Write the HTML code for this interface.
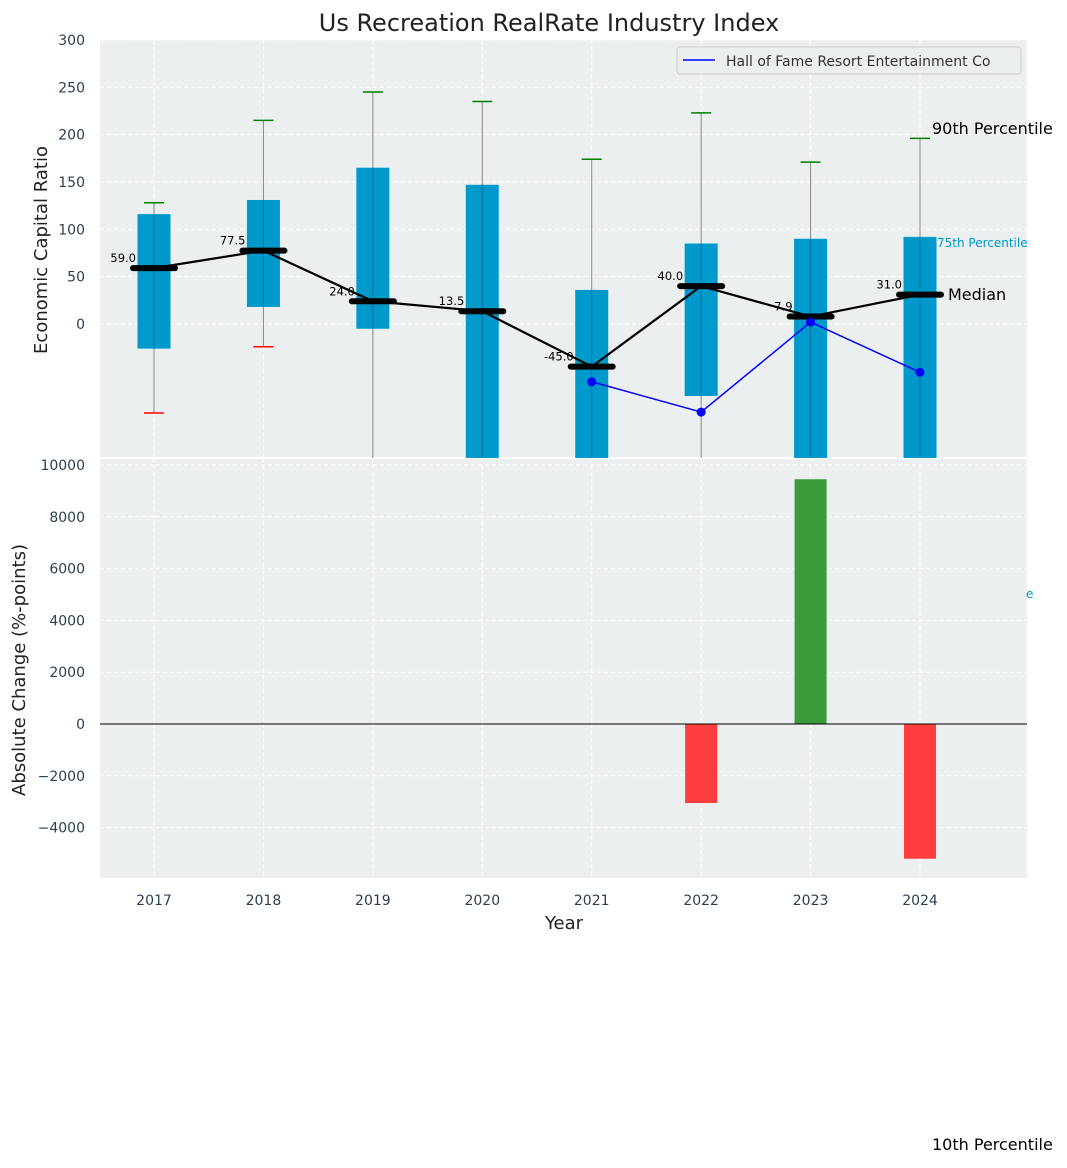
<!DOCTYPE html>
<html><head><meta charset="utf-8"><style>
body{margin:0;background:#fff;}
svg text{font-family:"DejaVu Sans","Liberation Sans",sans-serif;}
</style></head><body>
<svg id="c" width="1067" height="1163" xmlns="http://www.w3.org/2000/svg"></svg>
<script>
const years=[2017,2018,2019,2020,2021,2022,2023,2024];
const q75=[116,131,165,147,36,85,90,92];
const q25=[-26,18,-5,-200,-200,-76,-200,-200];
const p90=[128,215,245,235,174,223,171,196];
const p10=[-94,-24,-200,-200,-200,-200,-200,-200];
const medians=[59.0,77.5,24.0,13.5,-45.0,40.0,7.9,31.0];
const companyYears=[2021,2022,2023,2024];
const companyVals=[-61,-93,2,-51];
const changeYears=[2022,2023,2024];
const changeVals=[-3050,9450,-5200];
const topTicks=[0,50,100,150,200,250,300];
const botTicks=[-4000,-2000,0,2000,4000,6000,8000,10000];

const svg=document.getElementById('c');
const NS='http://www.w3.org/2000/svg';
function el(t,a,p){const e=document.createElementNS(NS,t);for(const k in a)e.setAttribute(k,a[k]);(p||svg).appendChild(e);return e;}
const L=100,R=1027,T1=40,B1=458,T2=458,B2=878;
const x=y=>154+(y-2017)*109.43;
const y1=v=>324-v*0.947;
const y2=v=>724-v*0.02590;
const fmt=v=>v<0?'\u2212'+Math.abs(v):String(v);

let g=el('rect',{x:L,y:T1,width:R-L,height:B1-T1,fill:'#ebeff0'});

g=el('rect',{x:L,y:T2,width:R-L,height:B2-T2,fill:'#ebeff0'});

el('line',{x1:L,x2:R,y1:458,y2:458,stroke:'#fff','stroke-width':2});

// grids
years.forEach(yr=>{
 el('line',{x1:x(yr),x2:x(yr),y1:T1,y2:B1,stroke:'#fff','stroke-dasharray':'4,3'});
 el('line',{x1:x(yr),x2:x(yr),y1:T2,y2:B2,stroke:'#fff','stroke-dasharray':'4,3'});
 const t=el('text',{x:x(yr),y:905,'text-anchor':'middle','font-size':14,fill:'#2c3e50'});t.textContent=yr;
 
});
topTicks.forEach(v=>{
 el('line',{x1:L,x2:R,y1:y1(v),y2:y1(v),stroke:'#fff','stroke-dasharray':'4,3'});
 const t=el('text',{x:85,y:y1(v)+5,'text-anchor':'end','font-size':14,fill:'#2c3e50'});t.textContent=v;
 
});
botTicks.forEach(v=>{
 el('line',{x1:L,x2:R,y1:y2(v),y2:y2(v),stroke:'#fff','stroke-dasharray':'4,3'});
 const t=el('text',{x:85,y:y2(v)+5,'text-anchor':'end','font-size':14,fill:'#2c3e50'});t.textContent=fmt(v);
 
});

// clip for top
const defs=el('defs',{});const cp=el('clipPath',{id:'cp1'},defs);el('rect',{x:L,y:T1,width:R-L,height:B1-T1},cp);
const gt=el('g',{'clip-path':'url(#cp1)'});

years.forEach((yr,i)=>{
 const cx=x(yr);
 el('line',{x1:cx,x2:cx,y1:y1(p90[i]),y2:y1(p10[i]),stroke:'#888','stroke-width':1},gt);
 const b=el('rect',{x:cx-16.5,y:y1(q75[i]),width:33,height:y1(q25[i])-y1(q75[i]),fill:'#0099cc'},gt);
 
 el('line',{x1:cx,x2:cx,y1:y1(q75[i]),y2:y1(q25[i]),stroke:'#006f99','stroke-width':1},gt);
 el('line',{x1:cx-10,x2:cx+10,y1:y1(p90[i]),y2:y1(p90[i]),stroke:'green','stroke-width':1.5},gt);
 if(p10[i]>-141) el('line',{x1:cx-10,x2:cx+10,y1:y1(p10[i]),y2:y1(p10[i]),stroke:'red','stroke-width':1.5},gt);
});
el('polyline',{points:years.map((yr,i)=>x(yr)+','+y1(medians[i])).join(' '),fill:'none',stroke:'#000','stroke-width':2.2},gt);
years.forEach((yr,i)=>{
 const m=el('line',{x1:x(yr)-21,x2:x(yr)+21,y1:y1(medians[i]),y2:y1(medians[i]),stroke:'#000','stroke-width':6,'stroke-linecap':'round'},gt);
 
 const t=el('text',{x:x(yr)-18,y:y1(medians[i])-6,'text-anchor':'end','font-size':11.5,fill:'#000'},gt);t.textContent=medians[i].toFixed(1);
});
el('polyline',{points:companyYears.map((yr,i)=>x(yr)+','+y1(companyVals[i])).join(' '),fill:'none',stroke:'blue','stroke-width':1.5},gt);
companyYears.forEach((yr,i)=>{const c=el('circle',{cx:x(yr),cy:y1(companyVals[i]),r:4.5,fill:'blue'},gt);
 });

// bottom bars
changeYears.forEach((yr,i)=>{const v=changeVals[i];
 const r=el('rect',{x:x(yr)-16,y:Math.min(y2(v),y2(0)),width:32,height:Math.abs(y2(v)-y2(0)),fill:v>=0?'#3a9a3a':'#ff3d3d'});
 });
el('line',{x1:L,x2:R,y1:y2(0),y2:y2(0),stroke:'#000','stroke-width':1});

// legend
const lg=el('g',{});
el('rect',{x:677,y:47,width:344,height:27,rx:3,fill:'#ebeff0',stroke:'#ccc'},lg);
el('line',{x1:683,x2:715,y1:60,y2:60,stroke:'blue','stroke-width':1.5},lg);
let t=el('text',{x:726,y:66,'font-size':14,fill:'#333'},lg);t.textContent='Hall of Fame Resort Entertainment Co';

function txt(s,a,name){const e=el('text',a);e.textContent=s;return e;}
txt('Us Recreation RealRate Industry Index',{x:549,y:31,'text-anchor':'middle','font-size':24,fill:'#222'},'chart-title');
txt('Economic Capital Ratio',{x:47,y:250,'text-anchor':'middle','font-size':18,fill:'#222',transform:'rotate(-90 47 250)'},'top-y-axis-title');
txt('Absolute Change (%-points)',{x:25,y:670,'text-anchor':'middle','font-size':18,fill:'#222',transform:'rotate(-90 25 670)'},'bottom-y-axis-title');
txt('Year',{x:564,y:929,'text-anchor':'middle','font-size':18,fill:'#222'},'x-axis-title');
txt('90th Percentile',{x:932,y:134,'font-size':16,fill:'#000'},'label-90th');
txt('75th Percentile',{x:937,y:247,'font-size':12,fill:'#0099cc'},'label-75th');
txt('Median',{x:948,y:300,'font-size':16,fill:'#000'},'label-median');
txt('e',{x:1026,y:598,'font-size':12,fill:'#0099cc'},'label-25th');
txt('10th Percentile',{x:932,y:1150,'font-size':16,fill:'#000'},'label-10th');
</script>
</body></html>
